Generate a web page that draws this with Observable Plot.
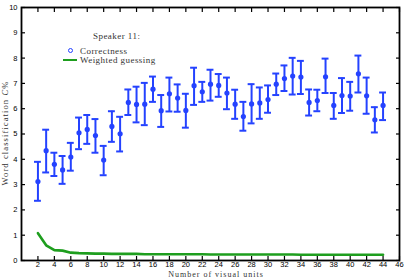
<!DOCTYPE html>
<html><head><meta charset="utf-8">
<script src="https://cdn.jsdelivr.net/npm/d3@7"></script>
<script src="https://cdn.jsdelivr.net/npm/@observablehq/plot@0.6"></script>
<style>
body{margin:0;background:#fff;}
#wrap{position:relative;width:407px;height:279px;overflow:hidden;}
.leg{position:absolute;font-family:"Liberation Serif",serif;font-size:9px;letter-spacing:0.45px;color:#333;white-space:nowrap;line-height:1;}
</style></head><body><div id="wrap"></div>
<script>
const units = [2,3,4,5,6,7,8,9,10,11,12,13,14,15,16,17,18,19,20,21,22,23,24,25,26,27,28,29,30,31,32,33,34,35,36,37,38,39,40,41,42,43,44];
const correctness = [3.12,4.34,3.80,3.58,4.09,5.05,5.18,4.94,3.97,5.30,5.01,6.25,6.17,6.18,6.77,5.92,6.59,6.42,5.93,6.91,6.67,6.97,6.92,6.62,6.18,5.69,6.19,6.23,6.36,6.97,7.19,7.29,7.25,6.25,6.32,7.26,6.13,6.52,6.50,7.38,6.51,5.56,6.13];
const upper = [3.90,5.17,4.26,4.13,4.65,5.65,5.75,5.59,4.53,5.90,5.68,6.76,6.87,7.02,7.27,6.54,7.23,6.96,6.59,7.62,7.06,7.54,7.37,7.23,6.75,6.27,6.97,6.84,6.92,7.39,7.71,8.01,7.89,6.76,6.75,7.98,6.62,7.21,7.06,8.10,7.23,6.06,6.64];
const lower = [2.36,3.48,3.34,3.03,3.55,4.40,4.61,4.26,3.37,4.69,4.31,5.75,5.46,5.35,6.27,5.28,5.89,5.88,5.25,6.15,6.27,6.32,6.47,5.98,5.60,5.13,5.42,5.60,5.84,6.54,6.70,6.56,6.58,5.73,5.90,6.62,5.60,5.83,5.92,6.64,5.80,5.06,5.55];
const guessing = [1.08,0.60,0.41,0.39,0.31,0.29,0.28,0.27,0.27,0.26,0.26,0.26,0.26,0.25,0.25,0.25,0.25,0.25,0.25,0.25,0.25,0.24,0.24,0.24,0.24,0.24,0.24,0.24,0.24,0.24,0.24,0.24,0.23,0.23,0.23,0.23,0.23,0.23,0.23,0.23,0.23,0.23,0.23];
const xTicks = [2,4,6,8,10,12,14,16,18,20,22,24,26,28,30,32,34,36,38,40,42,44,46];
const yTicks = [0,1,2,3,4,5,6,7,8,9,10];
const seriesNames = ["Correctness","Weighted guessing"];
const legendTitle = "Speaker 11:";
const xLabel = "Number of visual units";

const blue = "#2442ff", green = "#1e9e1e";
const data = units.map((u,i)=>({u, c:correctness[i], hi:upper[i], lo:lower[i], g:guessing[i]}));
const capHalf = 0.42;

const plot = Plot.plot({
  width:407, height:279,
  marginLeft:21, marginRight:8, marginTop:7, marginBottom:19,
  x:{domain:[0,46]}, y:{domain:[0,10]},
  style:{fontFamily:"'Liberation Sans', sans-serif", fontSize:"7.5px", color:"#000", background:"#fff"},
  marks:[
    Plot.line(data,{x:"u", y:"g", stroke:green, strokeWidth:2.6}),
    Plot.ruleX(data,{x:"u", y1:"lo", y2:"hi", stroke:blue, strokeWidth:2}),
    Plot.ruleY(data,{y:"hi", x1:d=>d.u-capHalf, x2:d=>d.u+capHalf, stroke:blue, strokeWidth:2}),
    Plot.ruleY(data,{y:"lo", x1:d=>d.u-capHalf, x2:d=>d.u+capHalf, stroke:blue, strokeWidth:2}),
    Plot.dot(data,{x:"u", y:"c", r:2.6, fill:blue}),
    Plot.axisX(xTicks,{anchor:"bottom", tickSize:4, dy:-4, text:null, label:null, strokeWidth:1.2}),
    Plot.axisX(xTicks,{anchor:"top", tickSize:4, dy:4, text:null, label:null, strokeWidth:1.2}),
    Plot.axisX(xTicks,{anchor:"bottom", tickSize:0, tickPadding:1.5, label:null, fill:"#000"}),
    Plot.axisY(yTicks,{anchor:"left", tickSize:4, dx:4, text:null, label:null, strokeWidth:1.2}),
    Plot.axisY(yTicks,{anchor:"right", tickSize:4, dx:-4, text:null, label:null, strokeWidth:1.2}),
    Plot.axisY(yTicks,{anchor:"left", tickSize:0, tickPadding:4, label:null, fill:"#000"}),
    Plot.frame({stroke:"#000", strokeWidth:1.8})
  ]
});
const wrap = document.getElementById("wrap");
wrap.appendChild(plot);

const svg = d3.select(plot);
const yt = svg.append("text")
  .attr("transform","translate(6,133) rotate(-90)")
  .attr("text-anchor","middle").attr("dominant-baseline","middle")
  .attr("letter-spacing","1.1px")
  .attr("font-family","'Liberation Serif', serif").attr("font-size","8.5px").attr("fill","#333");
yt.append("tspan").text("Word classification ");
yt.append("tspan").attr("font-style","italic").text("C");
yt.append("tspan").text("%");
svg.append("text")
  .attr("x",216).attr("y",275.5)
  .attr("text-anchor","middle").attr("dominant-baseline","middle")
  .attr("letter-spacing","1px")
  .attr("font-family","'Liberation Serif', serif").attr("font-size","8px").attr("fill","#333")
  .text(xLabel);

function leg(html, left, top){
  const d = document.createElement("div");
  d.className = "leg"; d.style.left = left+"px"; d.style.top = top+"px";
  d.innerHTML = html; wrap.appendChild(d); return d;
}
leg(legendTitle, 93, 32);
leg(`<span style="display:inline-block;box-sizing:border-box;width:5px;height:5px;border:1px solid ${blue};border-radius:50%;margin-left:-12px;margin-right:7px;vertical-align:1px"></span>${seriesNames[0]}`, 80, 47);
leg(`<span style="display:inline-block;width:14px;height:0;border-top:2.6px solid ${green};margin-left:-17px;margin-right:3px;vertical-align:2px"></span>${seriesNames[1]}`, 80, 56);
</script></body></html>
